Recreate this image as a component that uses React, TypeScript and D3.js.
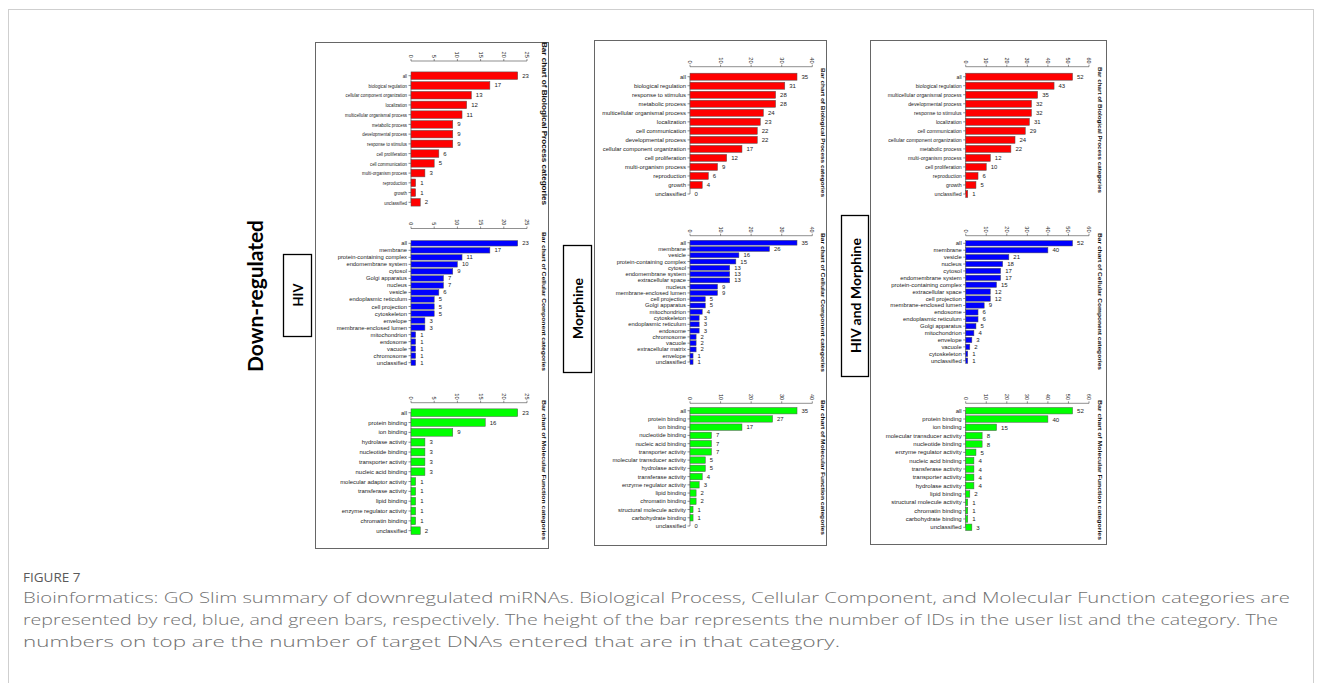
import * as d3 from "d3";

// GO slim counts: [category, count]
const hivProcess: [string, number][] = [
  ["all", 23], ["biological regulation", 17], ["cellular component organization", 13],
  ["localization", 12], ["multicellular organismal process", 11], ["metabolic process", 9],
  ["developmental process", 9], ["response to stimulus", 9], ["cell proliferation", 6],
  ["cell communication", 5], ["multi-organism process", 3], ["reproduction", 1],
  ["growth", 1], ["unclassified", 2],
];
const hivComponent: [string, number][] = [
  ["all", 23], ["membrane", 17], ["protein-containing complex", 11], ["endomembrane system", 10],
  ["cytosol", 9], ["Golgi apparatus", 7], ["nucleus", 7], ["vesicle", 6],
  ["endoplasmic reticulum", 5], ["cell projection", 5], ["cytoskeleton", 5], ["envelope", 3],
  ["membrane-enclosed lumen", 3], ["mitochondrion", 1], ["endosome", 1], ["vacuole", 1],
  ["chromosome", 1], ["unclassified", 1],
];
const hivFunction: [string, number][] = [
  ["all", 23], ["protein binding", 16], ["ion binding", 9], ["hydrolase activity", 3],
  ["nucleotide binding", 3], ["transporter activity", 3], ["nucleic acid binding", 3],
  ["molecular adaptor activity", 1], ["transferase activity", 1], ["lipid binding", 1],
  ["enzyme regulator activity", 1], ["chromatin binding", 1], ["unclassified", 2],
];
const morphineProcess: [string, number][] = [
  ["all", 35], ["biological regulation", 31], ["response to stimulus", 28],
  ["metabolic process", 28], ["multicellular organismal process", 24], ["localization", 23],
  ["cell communication", 22], ["developmental process", 22],
  ["cellular component organization", 17], ["cell proliferation", 12],
  ["multi-organism process", 9], ["reproduction", 6], ["growth", 4], ["unclassified", 0],
];
const morphineComponent: [string, number][] = [
  ["all", 35], ["membrane", 26], ["vesicle", 16], ["protein-containing complex", 15],
  ["cytosol", 13], ["endomembrane system", 13], ["extracellular space", 13], ["nucleus", 9],
  ["membrane-enclosed lumen", 9], ["cell projection", 5], ["Golgi apparatus", 5],
  ["mitochondrion", 4], ["cytoskeleton", 3], ["endoplasmic reticulum", 3], ["endosome", 3],
  ["chromosome", 2], ["vacuole", 2], ["extracellular matrix", 2], ["envelope", 1],
  ["unclassified", 1],
];
const morphineFunction: [string, number][] = [
  ["all", 35], ["protein binding", 27], ["ion binding", 17], ["nucleotide binding", 7],
  ["nucleic acid binding", 7], ["transporter activity", 7], ["molecular transducer activity", 5],
  ["hydrolase activity", 5], ["transferase activity", 4], ["enzyme regulator activity", 3],
  ["lipid binding", 2], ["chromatin binding", 2], ["structural molecule activity", 1],
  ["carbohydrate binding", 1], ["unclassified", 0],
];
const bothProcess: [string, number][] = [
  ["all", 52], ["biological regulation", 43], ["multicellular organismal process", 35],
  ["developmental process", 32], ["response to stimulus", 32], ["localization", 31],
  ["cell communication", 29], ["cellular component organization", 24],
  ["metabolic process", 22], ["multi-organism process", 12], ["cell proliferation", 10],
  ["reproduction", 6], ["growth", 5], ["unclassified", 1],
];
const bothComponent: [string, number][] = [
  ["all", 52], ["membrane", 40], ["vesicle", 21], ["nucleus", 18], ["cytosol", 17],
  ["endomembrane system", 17], ["protein-containing complex", 15], ["extracellular space", 12],
  ["cell projection", 12], ["membrane-enclosed lumen", 9], ["endosome", 6],
  ["endoplasmic reticulum", 6], ["Golgi apparatus", 5], ["mitochondrion", 4], ["envelope", 3],
  ["vacuole", 2], ["cytoskeleton", 1], ["unclassified", 1],
];
const bothFunction: [string, number][] = [
  ["all", 52], ["protein binding", 40], ["ion binding", 15], ["molecular transducer activity", 8],
  ["nucleotide binding", 8], ["enzyme regulator activity", 5], ["nucleic acid binding", 4],
  ["transferase activity", 4], ["transporter activity", 4], ["hydrolase activity", 4],
  ["lipid binding", 2], ["structural molecule activity", 1], ["chromatin binding", 1],
  ["carbohydrate binding", 1], ["unclassified", 3],
];

const panelNames = ["HIV", "Morphine", "HIV and Morphine"];
const chartTitles = [
  "Bar chart of Biological Process categories",
  "Bar chart of Cellular Component categories",
  "Bar chart of Molecular Function categories",
];
const captionHead = "FIGURE 7";
const captionLines = [
  "Bioinformatics: GO Slim summary of downregulated miRNAs. Biological Process, Cellular Component, and Molecular Function categories are",
  "represented by red, blue, and green bars, respectively. The height of the bar represents the number of IDs in the user list and the category. The",
  "numbers on top are the number of target DNAs entered that are in that category.",
];

const RED = "#ff0000";
const BLUE = "#0000ff";
const GREEN = "#00ff00";

type Spec = {
  data: [string, number][];
  color: string;
  max: number;
  tickStep: number;
  x0: number;
  x1: number;
  axisY: number;
  firstY: number;
  lastY: number;
  font: number;
  squeeze: number; // horizontal squash of the source image
  title: string;
  titleX: number;
  titleY0: number;
  titleY1: number;
};

const specs: Spec[] = [
  // HIV
  { data: hivProcess, color: RED, max: 25, tickStep: 5, x0: 411, x1: 527, axisY: 61, firstY: 75.7, lastY: 202.3, font: 5.9, squeeze: 0.74, title: chartTitles[0], titleX: 544, titleY0: 42, titleY1: 205 },
  { data: hivComponent, color: BLUE, max: 25, tickStep: 5, x0: 411, x1: 527, axisY: 228.5, firstY: 243.3, lastY: 362.7, font: 5.8, squeeze: 1, title: chartTitles[1], titleX: 544, titleY0: 232, titleY1: 371 },
  { data: hivFunction, color: GREEN, max: 25, tickStep: 5, x0: 411, x1: 527, axisY: 402.7, firstY: 412.7, lastY: 530.7, font: 5.9, squeeze: 1, title: chartTitles[2], titleX: 544, titleY0: 400, titleY1: 540 },
  // Morphine
  { data: morphineProcess, color: RED, max: 40, tickStep: 10, x0: 690, x1: 812.3, axisY: 66.7, firstY: 76.7, lastY: 194, font: 5.9, squeeze: 1, title: chartTitles[0], titleX: 823, titleY0: 68, titleY1: 197 },
  { data: morphineComponent, color: BLUE, max: 40, tickStep: 10, x0: 690, x1: 812.3, axisY: 235.7, firstY: 242.7, lastY: 362, font: 5.8, squeeze: 1, title: chartTitles[1], titleX: 823, titleY0: 233, titleY1: 372 },
  { data: morphineFunction, color: GREEN, max: 40, tickStep: 10, x0: 690, x1: 812.3, axisY: 403.3, firstY: 410.7, lastY: 526, font: 5.8, squeeze: 1, title: chartTitles[2], titleX: 823, titleY0: 400, titleY1: 535 },
  // HIV and Morphine
  { data: bothProcess, color: RED, max: 60, tickStep: 10, x0: 965.7, x1: 1089, axisY: 66.7, firstY: 76.7, lastY: 194, font: 5.8, squeeze: 0.9, title: chartTitles[0], titleX: 1100, titleY0: 67, titleY1: 193 },
  { data: bothComponent, color: BLUE, max: 60, tickStep: 10, x0: 965.7, x1: 1089, axisY: 235.7, firstY: 243.3, lastY: 360.7, font: 5.9, squeeze: 1, title: chartTitles[1], titleX: 1100, titleY0: 233, titleY1: 370 },
  { data: bothFunction, color: GREEN, max: 60, tickStep: 10, x0: 965.7, x1: 1089, axisY: 403.3, firstY: 410.7, lastY: 527.3, font: 6.0, squeeze: 1, title: chartTitles[2], titleX: 1100, titleY0: 400, titleY1: 540 },
];

const panelBoxes = [
  { x0: 315, y0: 42, x1: 548, y1: 548 },
  { x0: 594, y0: 40, x1: 826, y1: 545 },
  { x0: 870, y0: 40, x1: 1106, y1: 544 },
];
const nameBoxes = [
  { x0: 283, y0: 254, x1: 311, y1: 336, font: 13 },
  { x0: 563, y0: 245, x1: 591, y1: 372, font: 14 },
  { x0: 841, y0: 215, x1: 868, y1: 376, font: 14 },
];

const SANS = "'Liberation Sans', Arial, sans-serif";

function BarChart({ s }: { s: Spec }) {
  const names = s.data.map((d) => d[0]);
  const x = d3.scaleLinear().domain([0, s.max]).range([s.x0, s.x1]);
  const y = d3.scalePoint<string>().domain(names).range([s.firstY, s.lastY]);
  const step = y.step();
  const barH = step * 0.78;
  const ticks = d3.range(0, s.max + 1, s.tickStep);
  const tickFont = s.font * 0.95;
  const titleLen = s.titleY1 - s.titleY0;
  return (
    <g fontFamily={SANS}>
      {/* value axis on top */}
      <line x1={x(0)} x2={x(s.max)} y1={s.axisY} y2={s.axisY} stroke="#444" strokeWidth={0.6} />
      {ticks.map((t) => (
        <g key={t}>
          <line x1={x(t)} x2={x(t)} y1={s.axisY} y2={s.axisY - 2} stroke="#444" strokeWidth={0.6} />
          <text
            transform={`translate(${x(t)},${s.axisY - 3.2}) rotate(90)`}
            textAnchor="end"
            dominantBaseline="central"
            fontSize={tickFont}
            fill="#222"
          >
            {t}
          </text>
        </g>
      ))}
      {/* category axis */}
      <line x1={s.x0} x2={s.x0} y1={s.firstY} y2={s.lastY} stroke="#444" strokeWidth={0.6} />
      {s.data.map(([name, v]) => {
        const cy = y(name) as number;
        return (
          <g key={name}>
            <line x1={s.x0 - 2.5} x2={s.x0} y1={cy} y2={cy} stroke="#444" strokeWidth={0.6} />
            <text
              transform={`translate(${s.x0 - 4},${cy}) scale(${s.squeeze},1)`}
              textAnchor="end"
              dominantBaseline="central"
              fontSize={s.font}
              fill="#222"
            >
              {name}
            </text>
            {v > 0 && (
              <rect
                x={x(0)}
                y={cy - barH / 2}
                width={x(v) - x(0)}
                height={barH}
                fill={s.color}
                stroke="#555"
                strokeWidth={0.5}
              />
            )}
            <text
              x={x(v) + 4.5}
              y={cy}
              dominantBaseline="central"
              fontSize={s.font * 1.02}
              fill="#222"
            >
              {v}
            </text>
          </g>
        );
      })}
      <text
        transform={`translate(${s.titleX},${(s.titleY0 + s.titleY1) / 2}) rotate(90)`}
        textAnchor="middle"
        dominantBaseline="central"
        fontWeight="bold"
        fontSize={Math.min(titleLen / 23, 6.4)}
        textLength={titleLen}
        lengthAdjust="spacingAndGlyphs"
        fill="#111"
      >
        {s.title}
      </text>
    </g>
  );
}

export default function App() {
  return (
    <svg
      width={1322}
      height={683}
      style={{ position: "absolute", left: 0, top: 0, background: "#fff" }}
    >
      <rect x={8.5} y={9.5} width={1305} height={700} fill="none" stroke="#cfcfcf" strokeWidth={1} />

      {panelBoxes.map((b, i) => (
        <rect
          key={i}
          x={b.x0 + 0.5}
          y={b.y0 + 0.5}
          width={b.x1 - b.x0}
          height={b.y1 - b.y0}
          fill="none"
          stroke="#666"
          strokeWidth={1}
        />
      ))}

      {/* row label */}
      <text
        transform="translate(254,296) rotate(-90)"
        textAnchor="middle"
        dominantBaseline="central"
        fontFamily="Lato, 'Open Sans', sans-serif"
        fontWeight="bold"
        fontSize={21}
        textLength={152}
        lengthAdjust="spacingAndGlyphs"
        fill="#000"
      >
        Down-regulated
      </text>

      {nameBoxes.map((b, i) => (
        <g key={i}>
          <rect
            x={b.x0 + 0.5}
            y={b.y0 + 0.5}
            width={b.x1 - b.x0}
            height={b.y1 - b.y0}
            fill="#fff"
            stroke="#000"
            strokeWidth={1.3}
          />
          <text
            transform={`translate(${(b.x0 + b.x1) / 2 + 0.5},${(b.y0 + b.y1) / 2}) rotate(-90)`}
            textAnchor="middle"
            dominantBaseline="central"
            fontFamily="Lato, 'Open Sans', sans-serif"
            fontWeight="bold"
            fontSize={b.font}
            fill="#000"
          >
            {panelNames[i]}
          </text>
        </g>
      ))}

      {specs.map((s, i) => (
        <BarChart key={i} s={s} />
      ))}

      {/* caption */}
      <text x={23} y={582} fontFamily="'Open Sans', sans-serif" fontSize={13.5} fill="#5a5a5a">
        {captionHead}
      </text>
      {captionLines.map((line, i) => (
        <text
          key={i}
          x={23}
          y={603 + i * 22}
          fontFamily="'Open Sans', sans-serif"
          fontWeight={300}
          fontSize={15}
          fill="#707070"
          textLength={[1267, 1255, 817][i]}
          lengthAdjust="spacingAndGlyphs"
        >
          {line}
        </text>
      ))}
    </svg>
  );
}
